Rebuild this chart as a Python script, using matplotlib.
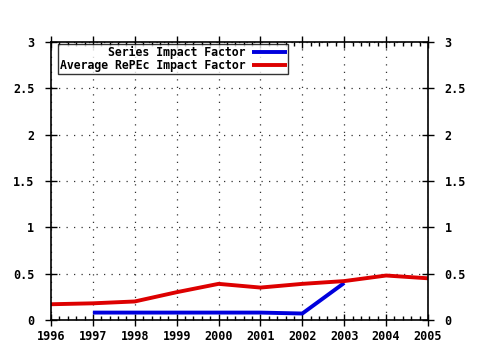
import matplotlib
matplotlib.use("Agg")
import matplotlib.pyplot as plt
from matplotlib.ticker import MultipleLocator

years_series = [1997, 1998, 1999, 2000, 2001, 2002, 2003]
series_if = [0.08, 0.08, 0.08, 0.08, 0.08, 0.07, 0.40]
years_avg = [1996, 1997, 1998, 1999, 2000, 2001, 2002, 2003, 2004, 2005]
avg_if = [0.17, 0.18, 0.20, 0.30, 0.39, 0.35, 0.39, 0.42, 0.48, 0.45]
yticks = [0, 0.5, 1, 1.5, 2, 2.5, 3]
ylabels = ["0", "0.5", "1", "1.5", "2", "2.5", "3"]
xticks = list(range(1996, 2006))

plt.rcParams['font.family'] = ['DejaVu Sans Mono']
plt.rcParams['font.weight'] = 'bold'
plt.rcParams['font.size'] = 8.5

fig = plt.figure(figsize=(4.8, 3.5), dpi=100)
ax = fig.add_axes([51/480, 30/350, (428-51)/480, (320-42)/350])

ax.plot(years_series, series_if, color='#0000dd', lw=2.8, label='Series Impact Factor', solid_capstyle='butt')
ax.plot(years_avg, avg_if, color='#dd0000', lw=2.8, label='Average RePEc Impact Factor', solid_capstyle='butt')

ax.set_xlim(1996, 2005)
ax.set_ylim(0, 3)
ax.set_xticks(xticks)
ax.set_xticklabels([str(x) for x in xticks], fontweight='bold')
ax.set_yticks(yticks)
ax.set_yticklabels(ylabels, fontweight='bold')
ax.xaxis.set_minor_locator(MultipleLocator(0.2))
ax.grid(True, which='major', color='#333333', linestyle=(0, (1, 5)), lw=0.9)
ax.tick_params(which='both', direction='inout', top=True, right=True,
               labelright=True, length=8, width=1, color='black')
ax.tick_params(axis='y', which='major', pad=8)
ax.tick_params(axis='x', which='major', pad=3)
ax.tick_params(which='minor', direction='in', length=3, left=False, right=False)
for s in ax.spines.values():
    s.set_linewidth(1.2)

leg = ax.legend(loc='upper left', bbox_to_anchor=(0.018, 0.993), markerfirst=False,
                frameon=True, fancybox=False, borderpad=0.15, handlelength=3.0,
                handletextpad=0.6, labelspacing=0.05, borderaxespad=0,
                prop={'family': 'DejaVu Sans Mono', 'weight': 'bold', 'size': 8.3})
leg.get_frame().set_edgecolor('black')
leg.get_frame().set_linewidth(1)
leg._legend_box.align = "right"

fig.savefig('out.png', dpi=100)
